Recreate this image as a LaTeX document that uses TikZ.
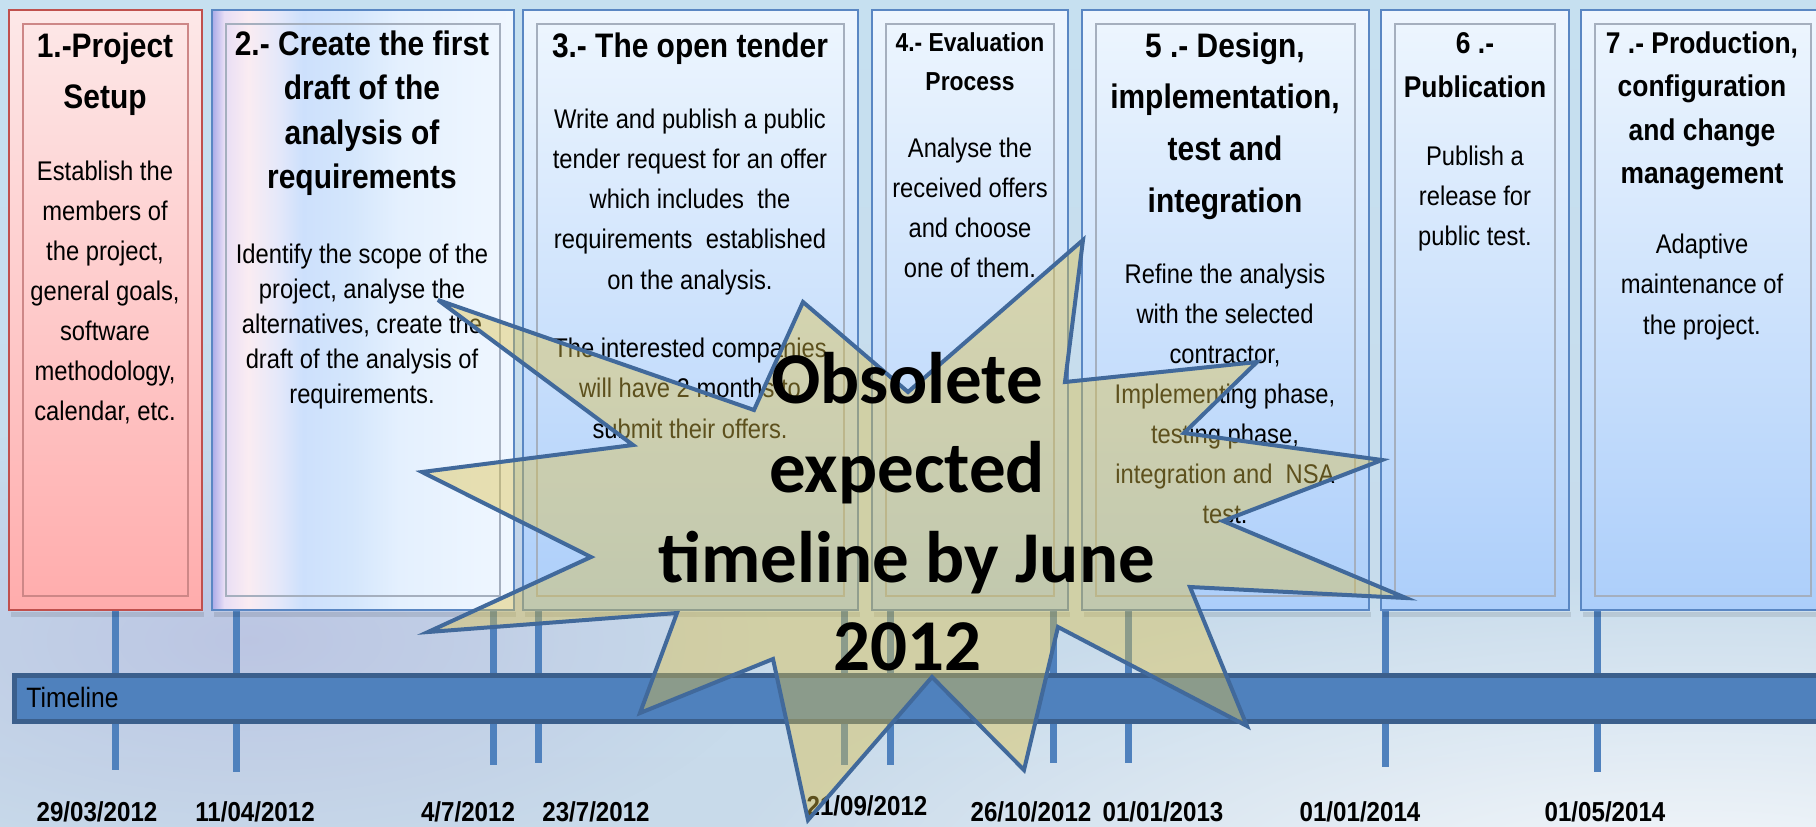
\documentclass[tikz,border=0pt]{standalone}
\usepackage{fontspec}
\setmainfont{Liberation Sans}
\newfontfamily\nar[FakeStretch=0.88]{Liberation Sans}
\newfontfamily\calf{Carlito}
\usetikzlibrary{fadings}
\definecolor{bgA}{RGB}{198,224,240}
\definecolor{bgB}{RGB}{200,218,234}
\definecolor{lav}{RGB}{178,180,220}
\definecolor{lavb}{RGB}{170,170,232}
\definecolor{pktop}{RGB}{253,232,232}
\definecolor{pkbot}{RGB}{255,172,172}
\definecolor{pkline}{RGB}{192,80,77}
\definecolor{pkin}{RGB}{205,135,135}
\definecolor{bbtop}{RGB}{238,246,254}
\definecolor{bbbot}{RGB}{172,206,250}
\definecolor{bbline}{RGB}{90,135,195}
\definecolor{bbin}{RGB}{165,175,190}
\definecolor{tlblue}{RGB}{79,129,189}
\definecolor{tldark}{RGB}{59,95,140}
\definecolor{starfill}{RGB}{222,192,70}
\definecolor{starline}{RGB}{65,105,155}
\definecolor{tA}{RGB}{232,222,245}
\definecolor{tB}{RGB}{250,236,242}
\definecolor{tC}{RGB}{228,232,250}
\definecolor{tD}{RGB}{205,224,252}
\definecolor{tE}{RGB}{212,230,252}
\definecolor{tF}{RGB}{228,240,254}
\definecolor{tG}{RGB}{240,247,255}
\pgfdeclarehorizontalshading{boxtwo}{100bp}{%
  color(0bp)=(lavb); color(25bp)=(lavb);
  color(27bp)=(tA); color(31bp)=(tB);
  color(36bp)=(tC); color(40bp)=(tD);
  color(48bp)=(tE); color(56bp)=(tF);
  color(75bp)=(tG); color(100bp)=(tG)}
\tikzfading[name=glowfade, inner color=transparent!0, outer color=transparent!100]
\newcommand\tlbox[4]{%
  \draw[#3] (#1,10) rectangle (#2,610);
  \draw[#4] ({#1+14},24) rectangle ({#2-14},596);}
\newcommand\txtlines[6]{%
  \foreach \t [count=\i] in {#6} {\node[#1] (#2\i) at (#3,{#4+(\i-1)*#5}) {\t};}}
\begin{document}
\begin{tikzpicture}[x=0.5pt,y=-0.5pt,
  body/.style={font=\nar\fontsize{13.5}{16}\selectfont, anchor=base, inner sep=0pt},
  head/.style={font=\nar\bfseries\fontsize{17}{20}\selectfont, anchor=base, inner sep=0pt},
  headm/.style={font=\nar\bfseries\fontsize{15}{18}\selectfont, anchor=base, inner sep=0pt},
  heads/.style={font=\nar\bfseries\fontsize{13}{16}\selectfont, anchor=base, inner sep=0pt},
  datelbl/.style={font=\nar\bfseries\fontsize{13.7}{16}\selectfont, anchor=base, inner sep=0pt},
  obs/.style={font=\calf\bfseries\fontsize{36.5}{44}\selectfont, anchor=base, inner sep=0pt},
  tick/.style={draw=tlblue, line width=3.5pt},
  bar/.style={fill=tlblue, draw=tldark, line width=2.5pt},
  pinkbox/.style={top color=pktop, bottom color=pkbot, draw=pkline, line width=1pt},
  bluebox/.style={top color=bbtop, bottom color=bbbot, draw=bbline, line width=1pt},
  twobox/.style={shading=boxtwo, draw=bbline, line width=1pt},
  pinkin/.style={draw=pkin, line width=0.8pt},
  bluein/.style={draw=bbin, line width=0.8pt},
  boxshadow/.style={fill=black, opacity=0.10},
  starshape/.style={fill=starfill, fill opacity=0.42, draw=starline, line width=2pt, line join=miter, miter limit=6}
]
\useasboundingbox (0,0) rectangle (1816,826);
\clip (0,0) rectangle (1816,826);
% background
\shade[top color=bgA, bottom color=bgB] (0,0) rectangle (1816,826);
\fill[lav, opacity=0.55, path fading=glowfade] (250,640) ellipse [x radius=520, y radius=230];
\fill[white, opacity=0.85, path fading=glowfade] (1700,900) ellipse [x radius=1000, y radius=330];
% ticks
\foreach \x/\yb in {115/770,236/772,493/765,538/763,844/765,890/765,1053/763,1128/763,1385/767,1597/772}
  \draw[tick] (\x,608) -- (\x,\yb);
% timeline bar
\draw[bar] (14,675.5) rectangle (1840,721);
\node[font=\nar\fontsize{14}{16}\selectfont, anchor=base west, inner sep=0pt] (tl) at (26,707) {Timeline};
% box shadows
\foreach \a/\b in {9/202,212/514,523/858,872/1068,1082/1369,1381/1569,1581/1825}
  \fill[boxshadow] ({\a+2},612) rectangle ({\b+2},617);
% boxes
\tlbox{9}{202}{pinkbox}{pinkin}
\tlbox{212}{514}{twobox}{bluein}
\tlbox{523}{858}{bluebox}{bluein}
\tlbox{872}{1068}{bluebox}{bluein}
\tlbox{1082}{1369}{bluebox}{bluein}
\tlbox{1381}{1569}{bluebox}{bluein}
\tlbox{1581}{1825}{bluebox}{bluein}
% box texts
\txtlines{head}{ha}{105}{57}{51}{1.-Project,Setup}
\txtlines{body}{ba}{105}{180}{40}{Establish the,members of,{the project,},{general goals,},software,{methodology,},{calendar, etc.}}
\txtlines{head}{hb}{362}{55}{44.5}{2.- Create the first,draft of the,analysis of,requirements}
\txtlines{body}{bb}{362}{263}{35}{Identify the scope of the,{project, analyse the},{alternatives, create the},draft of the analysis of,requirements.}
\txtlines{head}{hc}{690}{57}{51}{3.- The open tender}
\txtlines{body}{bc}{690}{128}{40.3}{Write and publish a public,tender request for an offer,which includes\ \ the,requirements\ \ established,on the analysis.}
\txtlines{body}{bd}{690}{357}{40.5}{The interested companies,will have 2 months to,submit their offers.}
\txtlines{heads}{he}{970}{51}{39}{4.- Evaluation,Process}
\txtlines{body}{be}{970}{157}{40}{Analyse the,received offers,and choose,one of them.}
\txtlines{head}{hf}{1225}{57}{51.7}{{5 .- Design,},{implementation,},test and,integration}
\txtlines{body}{bf}{1225}{283}{40}{Refine the analysis,with the selected,{contractor,},{Implementing phase,},{testing phase,},integration and\ \ NSA,test.}
\txtlines{headm}{hg}{1475}{53}{44}{6 .-,Publication}
\txtlines{body}{bg}{1475}{165}{40}{Publish a,release for,public test.}
\txtlines{headm}{hh}{1702}{53}{43.5}{{7 .- Production,},configuration,and change,management}
\txtlines{body}{bh}{1702}{253}{40.5}{Adaptive,maintenance of,the project.}
% dates
\node[datelbl] (d1) at (97,821) {29/03/2012};
\node[datelbl] (d2) at (255,821) {11/04/2012};
\node[datelbl] (d3) at (468,821) {4/7/2012};
\node[datelbl] (d4) at (596,821) {23/7/2012};
\node[datelbl] (d5) at (867,815) {21/09/2012};
\node[datelbl] (d6) at (1031,821) {26/10/2012};
\node[datelbl] (d7) at (1163,821) {01/01/2013};
\node[datelbl] (d8) at (1360,821) {01/01/2014};
\node[datelbl] (d9) at (1605,821) {01/05/2014};
% star
\filldraw[starshape] (438,300) -- (754,410) -- (803,302) -- (908,392) -- (1083,240) -- (1065,382)
  -- (1257,362) -- (1184,433) -- (1382,460) -- (1223,521) -- (1406,598) -- (1190,587)
  -- (1247,726) -- (1058,627) -- (1024,770) -- (932,677) -- (808,820) -- (773,659)
  -- (640,713) -- (677,613) -- (428,632) -- (591,557) -- (422,472) -- (633,445) -- cycle;
\node[obs] (o1) at (907,403) {Obsolete};
\node[obs] (o2) at (907,492) {expected};
\node[obs] (o3) at (907,582) {timeline by June};
\node[obs] (o4) at (907,670) {2012};
\end{tikzpicture}
\end{document}
